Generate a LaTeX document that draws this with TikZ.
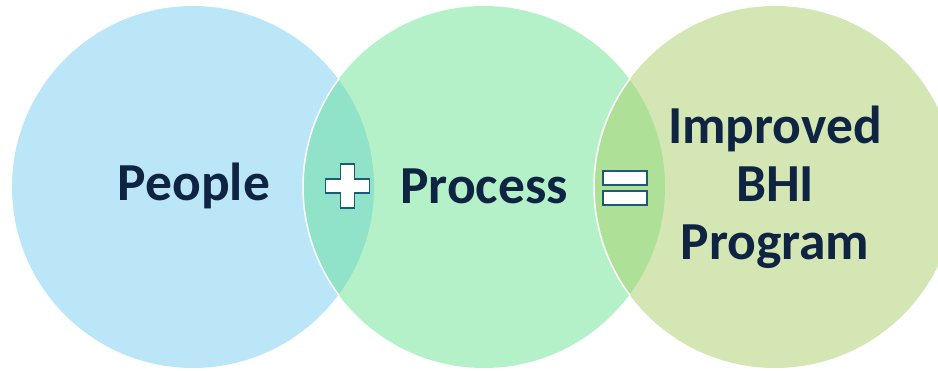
\documentclass[tikz,border=0pt]{standalone}
\usepackage{fontspec}
\setmainfont{Carlito}
\definecolor{peopleblue}{HTML}{BAE6F8}
\definecolor{processgreen}{HTML}{B5F1C8}
\definecolor{programolive}{HTML}{D3E6B4}
\definecolor{lensteal}{HTML}{90E2C8}
\definecolor{lensgreen}{HTML}{AEE097}
\definecolor{wordnavy}{HTML}{0E2442}
\definecolor{signedge}{HTML}{1B5A78}
\begin{document}
\begin{tikzpicture}[x=1pt,y=-1pt]

                \tikzset{bubble/.style = {shape=circle,minimum size=362pt,inner sep=0pt}}
                \tikzset{word/.style = {text=wordnavy,font=\fontsize{53.5}{58}\selectfont\bfseries,align=center}}
                \tikzset{sign/.style = {fill=white,draw=signedge,line width=1.5pt}}
                \useasboundingbox (0,0) rectangle (938,370);

                \node[bubble,fill=peopleblue] (people) at (193, 187) {};
                \node[bubble,fill=processgreen] (process) at (484, 187) {};
                \node[bubble,fill=programolive] (program) at (775, 187) {};

                % overlaps
                \begin{scope}
                \clip (people.center) circle (181);
                \fill[lensteal] (process.center) circle (181);
                \end{scope}
                \begin{scope}
                \clip (process.center) circle (181);
                \fill[lensgreen] (program.center) circle (181);
                \end{scope}

                % white rims
                \begin{scope}
                \clip (people.center) circle (182);
                \draw[white,line width=1.5pt] (process.center) circle (181);
                \end{scope}
                \begin{scope}
                \clip (process.center) circle (182);
                \draw[white,line width=1.5pt] (program.center) circle (181);
                \end{scope}

                \node[word] (peoplelabel) at (194, 186) {People};
                \node[word] (processlabel) at (484, 186) {Process};
                \node[word] (programlabel) at (775, 187) {Improved\\BHI\\Program};

                % plus and equals
                \coordinate (plus) at (347.5, 186);
                \coordinate (equals) at (625, 188);
                \draw[sign] ([shift={(-7,-22)}]plus) -- ++(14,0) -- ++(0,15) -- ++(15,0) -- ++(0,14)
                    -- ++(-15,0) -- ++(0,15) -- ++(-14,0) -- ++(0,-15) -- ++(-15,0) -- ++(0,-14)
                    -- ++(15,0) -- cycle;
                \draw[sign] ([shift={(-22,-17)}]equals) rectangle ++(44,14);
                \draw[sign] ([shift={(-22,3)}]equals) rectangle ++(44,14);
            \end{tikzpicture}
\end{document}
